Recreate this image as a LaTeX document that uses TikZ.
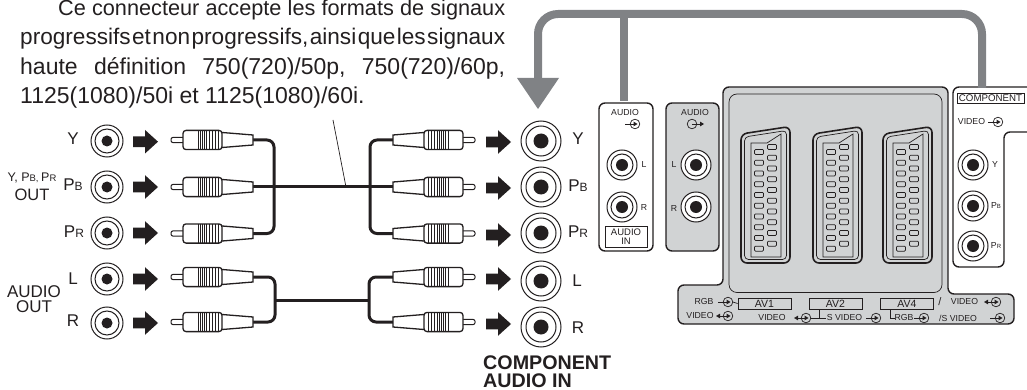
\documentclass[tikz,border=0pt]{standalone}
\usepackage{fontspec}
\setmainfont{Liberation Sans}
\definecolor{ink}{HTML}{231F20}
\definecolor{panel}{HTML}{D1D3D4}
\definecolor{guide}{HTML}{808285}
\newcommand\fs[1]{\fontsize{#1}{#1}\selectfont}
\newcommand\PX[3]{\fs{#2}P\fs{#3}#1}
\tikzset{
  outline/.style={draw=ink,line width=1.4pt},
  thin line/.style={draw=ink,line width=.7pt},
  cable/.style={draw=ink,line width=3pt,rounded corners=7pt},
  guideline/.style={draw=guide,line width=8pt,rounded corners=20pt},
  lbl/.style={inner sep=0pt,text=ink,font=\fs{17},align=center},
  tiny/.style={inner sep=0pt,text=ink,font=\fs{8.7},align=center},
  tag/.style={draw=ink,line width=.8pt,fill=none,inner sep=0pt,text=ink,font=\fs{10.5},minimum width=53pt,minimum height=11pt},
  textline/.style={inner sep=0pt,anchor=base west,text=ink,font=\fs{23}},
}
% jack: x y outer inner dot
\newcommand\jack[5]{%
  \path[fill=white,draw=ink,line width=1pt] (#1,#2) circle (#3);
  \path[draw=ink,line width=1pt] (#1,#2) circle (#4);
  \path[fill=ink] (#1,#2) circle (#5);}
\newcommand\barrow[2]{%
  \fill[ink] (#1,#2-5.4) -- (#1+12,#2-5.4) -- (#1+12,#2-11.8) -- (#1+25,#2) -- (#1+12,#2+11.8) -- (#1+12,#2+5.4) -- (#1,#2+5.4) -- cycle;}
% plug: tip x, y, direction (1 tip on the left, -1 tip on the right)
\newcommand\plug[3]{%
  \begin{scope}[shift={(#1,#2)},xscale=#3]
  \draw[ink,line width=1pt,fill=white,rounded corners=2pt] (13,-2.6) -- (0,-2.6) -- (0,2.6) -- (13,2.6);
  \draw[ink,line width=1.3pt,fill=white] (50,-7.6) -- (82,-5) -- (82,5) -- (50,7.6) -- cycle;
  \draw[ink,line width=1.3pt,fill=white,rounded corners=3pt] (12,-9.6) rectangle (51,9.6);
  \foreach \k in {27,29.2,31.4,33.6,35.8,38}{\draw[ink,line width=.85pt] (\k,-9.6) -- (\k,9.6);}
  \foreach \k in {41,44,47}{\draw[ink,line width=.45pt] (\k,-9.6) -- (\k,9.6);}
  \end{scope}}
% small port symbols
\newcommand\insym[2]{%
  \draw[ink,line width=.7pt] (#1,#2) circle (4.8);
  \draw[ink,line width=.7pt] (#1-10,#2) -- (#1,#2);
  \fill[ink] (#1+2.5,#2) -- (#1-1.5,#2-2.4) -- (#1-1.5,#2+2.4) -- cycle;}
\newcommand\biosym[2]{%
  \insym{#1}{#2}
  \fill[ink] (#1-12,#2) -- (#1-8,#2-2.4) -- (#1-8,#2+2.4) -- cycle;}
\newcommand\outsym[2]{%
  \draw[ink,line width=.7pt] (#1,#2) circle (4.8);
  \draw[ink,line width=.7pt] (#1,#2) -- (#1+9,#2);
  \fill[ink] (#1+12,#2) -- (#1+8,#2-2.4) -- (#1+8,#2+2.4) -- cycle;}
\newcommand\scart[1]{%
  \begin{scope}[shift={(#1,0)}]
  \draw[ink,line width=1.6pt,fill=panel,rounded corners=6pt] (0,263) -- (0,134) -- (49,126.5) -- (49,263) -- cycle;
  \draw[ink,line width=.7pt,rounded corners=4pt] (3.5,259.5) -- (3.5,137) -- (45.5,130.5) -- (45.5,259.5) -- cycle;
  \draw[ink,line width=.7pt] (10,257) -- (10,143) -- (26,143) -- (40,134) -- (40,257) -- cycle;
  \foreach \k in {0,...,9}{
    \draw[ink,line width=.7pt,fill=panel,rounded corners=1pt] (13.5,152-2.5+10.74*\k) rectangle (22.5,152+2.5+10.74*\k);
    \draw[ink,line width=.7pt,fill=panel,rounded corners=1pt] (26.5,147-2.5+10.74*\k) rectangle (35.5,147+2.5+10.74*\k);
  }
  \end{scope}}
\begin{document}
\begin{tikzpicture}[x=1pt,y=-1pt]
\useasboundingbox (0,0) rectangle (1027,390);
% top text
\node[textline,font=\fs{21.7}] (t1) at (58,16) {\hbox to 447pt{Ce\hfill connecteur\hfill accepte\hfill les\hfill formats\hfill de\hfill signaux}};
\node[textline,font=\fs{22.6}] (t2) at (20,45) {\hbox to 485pt{progressifs\hfill et\hfill non\hfill progressifs,\hfill ainsi\hfill que\hfill les\hfill signaux}};
\node[textline] (t3) at (20,74.5) {\hbox to 485pt{haute\hfill définition\hfill 750(720)/50p,\hfill 750(720)/60p,}};
\node[textline] (t4) at (20,103.5) {1125(1080)/50i et 1125(1080)/60i.};
% leader
\coordinate (leadA) at (333,120);
\coordinate (leadB) at (346,187);
\draw[ink,line width=.7pt] (leadA) -- (leadB);
% cables
\coordinate (cy) at (253,140); \coordinate (cb) at (253,187); \coordinate (cr) at (253,233.5);
\coordinate (dy) at (393,140); \coordinate (db) at (393,187); \coordinate (dr) at (393,233.5);
\coordinate (cl) at (253,277); \coordinate (crr) at (253,322);
\coordinate (dl) at (393,277); \coordinate (drr) at (393,322);
\draw[cable] (cy) -- (274,140) -- (274,233.5) -- (cr);
\draw[cable] (dy) -- (370,140) -- (370,233.5) -- (dr);
\draw[cable] (cb) -- (db);
\draw[cable] (cl) -- (275,277) -- (275,322) -- (crr);
\draw[cable] (dl) -- (369,277) -- (369,322) -- (drr);
\coordinate (ja) at (275,300); \coordinate (jb) at (369,300);
\draw[cable] (ja) -- (jb);
% plugs
\foreach \yy in {140,187,233.5,277,322}{\plug{171}{\yy}{1}\plug{475}{\yy}{-1}}
% arrows
\foreach \yy in {141.7,187,233,279,323}{\barrow{133}{\yy}}
\foreach \yy in {142,188,235,279,324}{\barrow{486}{\yy}}
% left jacks
\foreach \yy in {141,187,233,279,323}{\jack{107}{\yy}{16}{12}{5.5}}
% right jacks
\foreach \yy in {141,187,233,281,327}{\jack{541}{\yy}{20}{15}{7.5}}
% left labels
\node[lbl] (ly) at (73,139) {Y};
\node[lbl] (lb) at (73,185) {\PX{B}{17}{12}};
\node[lbl] (lr) at (74,232) {\PX{R}{17}{12}};
\node[lbl,font=\fs{12.5}] (lyp) at (32,178) {Y, \PX{B}{12.5}{9.5}, \PX{R}{12.5}{9.5}};
\node[lbl,font=\fs{16.5}] (lout) at (32,195) {OUT};
\node[lbl] (laud) at (34,292) {AUDIO};
\node[lbl] (lout2) at (34,307) {OUT};
\node[lbl] (ll) at (73,279) {L};
\node[lbl] (lrr) at (73,321) {R};
% right labels
\node[lbl] (ry) at (578,139) {Y};
\node[lbl] (rb) at (578,186) {\PX{B}{17}{12}};
\node[lbl] (rr) at (578,232) {\PX{R}{17}{12}};
\node[lbl] (rl) at (577,281) {L};
\node[lbl] (rrr) at (578,328) {R};
\node[lbl,anchor=base west,font=\fs{19.7}\bfseries] (comp) at (483,369) {COMPONENT};
\node[lbl,anchor=base west,font=\fs{19.7}\bfseries] (audin) at (483,387.5) {AUDIO IN};
% white audio box
\draw[outline,fill=white,rounded corners=6pt] (599,103) rectangle (653,251);
\node[tiny] (a1) at (625,113) {AUDIO};
\insym{635}{124}
\jack{622}{165}{15}{11}{6}
\jack{622}{207}{15}{11}{6}
\node[tiny] (a2) at (644,165) {L};
\node[tiny] (a3) at (644,208) {R};
\draw[ink,line width=.8pt] (605,226) rectangle (647,247);
\node[tiny,font=\fs{9.5}] (a4) at (626,232) {AUDIO};
\node[tiny,font=\fs{9.5}] (a5) at (626,241) {IN};
% grey audio box
\draw[outline,fill=panel,rounded corners=6pt] (666,103) rectangle (719,251);
\node[tiny] (b1) at (695,113) {AUDIO};
\outsym{692}{124}
\jack{696}{165}{15}{11}{6}
\jack{696}{207}{15}{11}{6}
\node[tiny] (b2) at (674,165) {L};
\node[tiny] (b3) at (674,209) {R};
% main panel
\draw[outline,fill=panel,rounded corners=6pt] (723,87) -- (948,87) -- (948,294) -- (1014,294) -- (1014,324) -- (678,324) -- (678,285) -- (723,285) -- cycle;
\draw[thin line,rounded corners=8pt] (729,94) rectangle (942,292.5);
\scart{741}\scart{813}\scart{883}
% bottom strip
\node[tag] (av1) at (764.5,303.5) {AV1};
\node[tag] (av2) at (835.5,303.5) {AV2};
\node[tag] (av4) at (907,303.5) {AV4};
\node[tiny] (s1) at (704,302) {RGB};
\insym{728}{302}
\coordinate (s1r) at (732.8,302);
\draw[ink,line width=.7pt] (s1r) -- (av1.west);
\node[tiny] (s2) at (700,316) {VIDEO};
\biosym{728}{316}
\node[tiny] (s3) at (772,318) {VIDEO};
\biosym{806}{318}
\coordinate (t2a) at (819,318);
\coordinate (t2b) at (819,309);
\coordinate (t2c) at (811,318);
\coordinate (t2d) at (826,318);
\draw[ink,line width=.7pt] (t2c) -- (t2d) (t2a) -- (t2b);
\node[tiny] (s4) at (844.5,318) {S VIDEO};
\insym{876}{318}
\coordinate (l4a) at (890,309);
\coordinate (l4b) at (890,318);
\coordinate (l4c) at (895,318);
\draw[ink,line width=.7pt] (l4a) -- (l4b) -- (l4c);
\node[tiny] (s5) at (904,318) {RGB};
\insym{924}{318}
\node[tiny,font=\fs{11}] (s6) at (940,302) {/};
\node[tiny] (s7) at (964.5,302) {VIDEO};
\biosym{996}{302}
\node[tiny] (s8) at (958,318) {/S VIDEO};
\insym{1000}{318}
% component box
\draw[outline,fill=white,rounded corners=6pt] (1027,87) -- (953,87) -- (953,267) -- (1004,267) -- (1004,132) -- (1027,132);
\node[draw=ink,line width=.8pt,inner sep=0pt,text=ink,font=\fs{9.7},minimum width=67pt,minimum height=10pt] (cp) at (990.5,98) {COMPONENT};
\node[tiny] (c1) at (971.5,122) {VIDEO};
\insym{998}{122}
\jack{973}{165}{15}{11}{6}
\jack{973}{206}{15}{11}{6}
\jack{973}{246}{15}{11}{6}
\node[tiny] (c2) at (995,165) {Y};
\node[tiny] (c3) at (996,206) {\PX{B}{8.7}{6}};
\node[tiny] (c4) at (996,246) {\PX{R}{8.7}{6}};
% guide arrow
\coordinate (g1) at (538,82); \coordinate (g2) at (538,14); \coordinate (g3) at (982,14); \coordinate (g4) at (982,88);
\coordinate (g5) at (624,14); \coordinate (g6) at (624,101);
\draw[guideline] (g1) -- (g2) -- (g3) -- (g4);
\draw[draw=guide,line width=8pt] (g5) -- (g6);
\fill[guide] (517,78) -- (559,78) -- (538,109) -- cycle;
\end{tikzpicture}
\end{document}
